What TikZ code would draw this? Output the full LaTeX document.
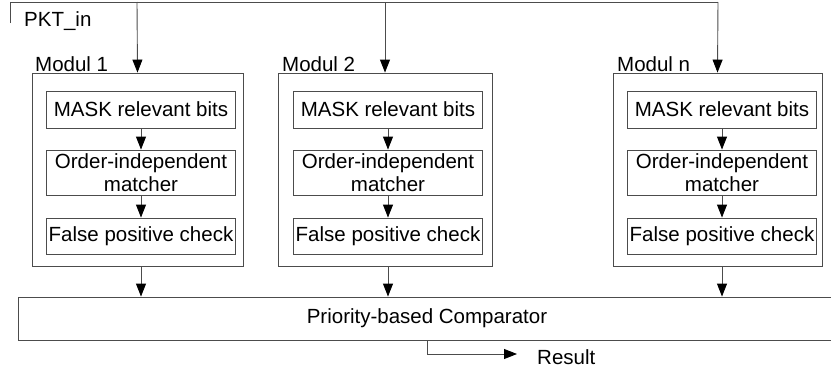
\documentclass[tikz,border=0pt]{standalone}
\usepackage{fontspec}
\setmainfont{Liberation Sans}
\usetikzlibrary{arrows.meta}
\begin{document}
\begin{tikzpicture}[x=1pt,y=-1pt,
  ln/.style={draw=black!70, line width=0.9pt},
  arr/.style={ln, -{Triangle[length=13pt,width=10pt,color=black]}},
  txt/.style={font=\fontsize{20.5}{23}\selectfont, text=black},
  modbox/.style={ln, minimum width=#1, minimum height=193pt, inner sep=0pt},
  inbox/.style={ln, txt, minimum width=189pt, inner sep=0pt, align=center},
  lbl/.style={txt, inner sep=0pt, anchor=base west}
]
\clip (0,0) rectangle (831,375);
% input bus
\coordinate (pa) at (10,23);
\coordinate (pb) at (10,2);
\coordinate (pc) at (718,2);
\node[lbl] (pkt) at (24,26) {PKT\_in};
% modules
\node[modbox=211pt] (m1) at (137.5,169.5) {};
\node[modbox=214pt] (m2) at (385,169.5) {};
\node[modbox=209pt] (mn) at (717.5,169.5) {};
\node[lbl] (l1) at (35,71) {Modul 1};
\node[lbl] (l2) at (282,71) {Modul 2};
\node[lbl] (ln) at (617,71) {Modul n};
% inner boxes
\foreach \m/\cx in {1/141, 2/388, n/722}{
  \node[inbox, minimum height=37pt] (mask\m) at (\cx,109.5) {MASK relevant bits};
  \node[inbox, minimum height=45pt] (ord\m) at (\cx,172.5) {Order-independent\\matcher};
  \node[inbox, minimum height=36pt] (fp\m) at (\cx,236) {False positive check};
}
% comparator
\node[ln, txt, minimum width=818pt, minimum height=43pt, inner sep=0pt] (cmp) at (427,318.5) {Priority-based Comparator};
\coordinate (rb) at (427,354);
\coordinate (rc) at (517,354);
\node[txt, inner sep=0pt, anchor=west] (res) at (537,357) {Result};
% connectors
\draw[ln] (pa) -- (pb) -- (pc);
\draw[arr] (137,2) -- (m1.north);
\draw[arr] (385,2) -- (m2.north);
\draw[arr] (pc) -- (mn.north);
\foreach \m/\M in {1/m1, 2/m2, n/mn}{
  \draw[arr] (mask\m) -- (ord\m);
  \draw[arr] (ord\m) -- (fp\m);
  \draw[arr] (fp\m.south |- \M.south) -- (fp\m.south |- cmp.north);
}
\draw[arr] (cmp.south) -- (rb) -- (rc);
\end{tikzpicture}
\end{document}
